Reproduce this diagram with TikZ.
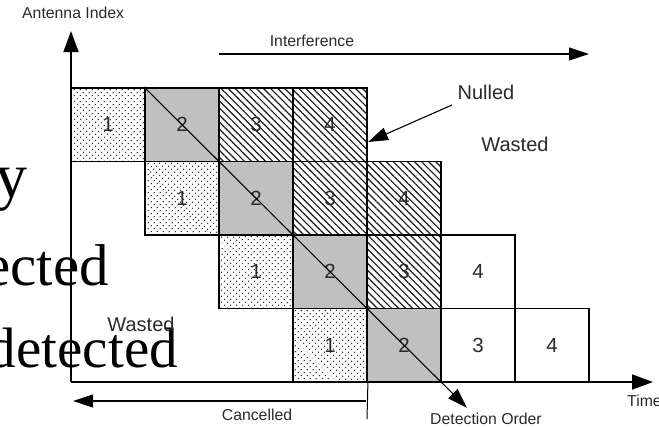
\documentclass[tikz,border=0pt]{standalone}
\usepackage{fontspec}
\setmainfont{Liberation Sans}
\newfontfamily\bgserif{Liberation Serif}
\usetikzlibrary{arrows.meta,patterns.meta}
\definecolor{txt}{HTML}{2A2A2A}
\definecolor{cellgray}{HTML}{C0C0C0}
\begin{document}
\begin{tikzpicture}[x=1pt,y=-1pt,
  cellbox/.style={draw=black, line width=1.8pt, minimum width=74pt, minimum height=73.5pt,
    inner sep=0pt, font=\fontsize{20.5}{24}\selectfont, text=txt},
  dotcell/.style={cellbox, pattern={Dots[radius=0.75pt, distance=4pt, angle=45]}, pattern color=black!85},
  graycell/.style={cellbox, fill=cellgray},
  hatchcell/.style={cellbox, pattern={Lines[angle=-45, distance=5pt, line width=1.2pt]}, pattern color=black!90},
  whitecell/.style={cellbox, fill=white},
  smalllbl/.style={inner sep=0pt, font=\fontsize{15.8}{18}\selectfont, text=txt},
  biglbl/.style={inner sep=0pt, font=\fontsize{20}{24}\selectfont, text=txt},
  bgtext/.style={inner sep=0pt, anchor=base east, text=black},
  axis/.style={line width=1.8pt, -{Triangle[length=21pt,width=15pt]}},
  thinarrow/.style={line width=1.1pt, -{Triangle[length=20pt,width=13pt]}},
]
\useasboundingbox (0,0) rectangle (659,426);
\fill[white] (0,0) rectangle (659,426);

% background slide text, clipped at the left edge
\begin{scope}
\clip (0,0) rectangle (659,426);
\node[bgtext, font=\bgserif\fontsize{64}{64}\selectfont] (bgy) at (28,197) {y};
\node[bgtext, font=\bgserif\fontsize{59}{59}\selectfont] (bgected) at (109,285) {ected};
\node[bgtext, font=\bgserif\fontsize{57}{57}\selectfont] (bgdetected) at (178,367) {detected};
\end{scope}

% row 3 (top)
\node[dotcell]   (c31) at (108,124.75) {1};
\node[graycell]  (c32) at (182,124.75) {2};
\node[hatchcell] (c33) at (256,124.75) {3};
\node[hatchcell] (c34) at (330,124.75) {4};
% row 2
\node[dotcell]   (c21) at (182,198.25) {1};
\node[graycell]  (c22) at (256,198.25) {2};
\node[hatchcell] (c23) at (330,198.25) {3};
\node[hatchcell] (c24) at (404,198.25) {4};
% row 1
\node[dotcell]   (c11) at (256,271.75) {1};
\node[graycell]  (c12) at (330,271.75) {2};
\node[hatchcell] (c13) at (404,271.75) {3};
\node[whitecell] (c14) at (478,271.75) {4};
% row 0
\node[dotcell]   (c01) at (330,345.25) {1};
\node[graycell]  (c02) at (404,345.25) {2};
\node[whitecell] (c03) at (478,345.25) {3};
\node[whitecell] (c04) at (552,345.25) {4};

% axes
\coordinate (O) at (71,382);
\coordinate (ytip) at (71,31);
\coordinate (xtip) at (653,382);
\draw[axis] (O) -- (ytip);
\draw[axis] (O) -- (xtip);

% detection order diagonal
\coordinate (dtip) at (467,407.8);
\draw[thinarrow] (c32.north west) -- (dtip);

% interference
\coordinate (if1) at (219,54);
\coordinate (if2) at (589,54);
\draw[thinarrow] (if1) -- (if2);

% nulled arrow
\coordinate (nstart) at (452,105);
\coordinate (ntip) at (368,142);
\draw[thinarrow] (nstart) -- (ntip);

% cancelled
\coordinate (cv) at (367,419);
\coordinate (cc1) at (366,401);
\coordinate (cc2) at (73,401);
\draw[line width=1pt] (c01.south east) -- (cv);
\draw[thinarrow] (cc1) -- (cc2);

% labels
\node[smalllbl, anchor=west] (antenna) at (22,13) {Antenna Index};
\node[smalllbl] (interf) at (312,41) {Interference};
\node[biglbl] (nulled) at (486,92.5) {Nulled};
\node[biglbl] (wastedA) at (515,144.5) {Wasted};
\node[biglbl] (wastedB) at (141,324.5) {Wasted};
\node[smalllbl] (cancel) at (257,415) {Cancelled};
\node[smalllbl] (detord) at (486,419) {Detection Order};
\node[smalllbl, anchor=west] (time) at (627,401) {Time};
\end{tikzpicture}
\end{document}
